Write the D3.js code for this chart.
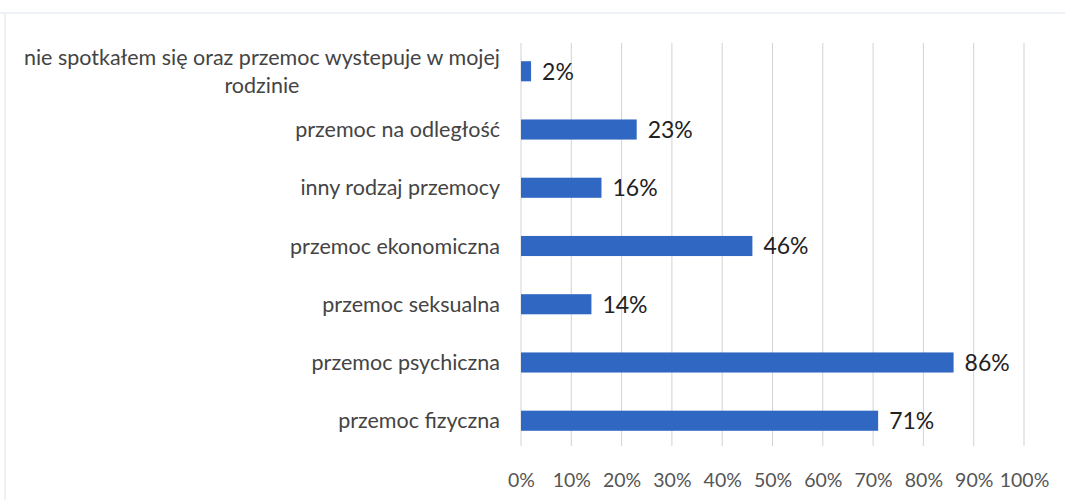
<!DOCTYPE html>
<html><head><meta charset="utf-8">
<script src="https://cdn.jsdelivr.net/npm/d3@7"></script>
<style>body{margin:0;background:#fff;}svg{display:block;}</style>
</head><body>
<svg id="c" width="1065" height="500"></svg>
<script>
const categories = [
  ["nie spotkałem się oraz przemoc wystepuje w mojej", "rodzinie"],
  ["przemoc na odległość"],
  ["inny rodzaj przemocy"],
  ["przemoc ekonomiczna"],
  ["przemoc seksualna"],
  ["przemoc psychiczna"],
  ["przemoc fizyczna"]
];
const values = [2, 23, 16, 46, 14, 86, 71];
const ticks = [0, 10, 20, 30, 40, 50, 60, 70, 80, 90, 100];

const svg = d3.select("#c");
const font = "Lato, 'Open Sans', sans-serif";
const x = d3.scaleLinear().domain([0, 100]).range([521, 1024]);
const y = d3.scaleBand().domain(d3.range(categories.length)).range([42, 450]).paddingInner(0.655).paddingOuter(0.33);

// page border (faint)
svg.append("line").attr("x1",0).attr("x2",1065).attr("y1",13).attr("y2",13).attr("stroke","#dde3ee").attr("stroke-width",1);
svg.append("line").attr("x1",5).attr("x2",5).attr("y1",13).attr("y2",500).attr("stroke","#e2e2e2").attr("stroke-width",1);

// gridlines
svg.append("g").selectAll("line").data(ticks).join("line")
  .attr("x1", d => x(d)).attr("x2", d => x(d))
  .attr("y1", 43).attr("y2", 446)
  .attr("stroke", "#d3d3d3").attr("stroke-width", 1);

// tick labels
const xAxis = d3.axisBottom(x).tickValues(ticks).tickFormat(d => d + "%").tickSize(0).tickPadding(0);
const gx = svg.append("g").attr("transform", "translate(0,480)").call(xAxis);
gx.select(".domain").remove();
gx.selectAll("text").attr("font-family", font).attr("font-size", 19.5).attr("fill", "#555").attr("dy", "0.36em");

// bars
svg.append("g").selectAll("rect").data(values).join("rect")
  .attr("x", x(0)).attr("y", (d, i) => y(i))
  .attr("width", d => x(d) - x(0)).attr("height", y.bandwidth())
  .attr("fill", "#2f67c2");

// value labels
svg.append("g").selectAll("text").data(values).join("text")
  .attr("x", d => x(d) + 11).attr("y", (d, i) => y(i) + y.bandwidth() / 2)
  .attr("dy", "0.36em")
  .attr("font-family", font).attr("font-size", 23).attr("fill", "#222")
  .text(d => d + "%");

// category labels
const labelRight = 500;
const lineH = 28;
categories.forEach((lines, i) => {
  const cy = y(i) + y.bandwidth() / 2;
  const g = svg.append("g");
  const ts = lines.map((ln, j) => g.append("text")
    .attr("font-family", font).attr("font-size", 21.5).attr("fill", "#444")
    .attr("y", cy + (j - (lines.length - 1) / 2) * lineH)
    .attr("dy", "0.35em").text(ln));
  if (lines.length === 1) {
    ts[0].attr("x", labelRight).attr("text-anchor", "end");
  } else {
    const maxW = d3.max(ts, t => t.node().getComputedTextLength());
    ts.forEach(t => t.attr("x", labelRight - maxW / 2).attr("text-anchor", "middle"));
  }
});
</script>
</body></html>
